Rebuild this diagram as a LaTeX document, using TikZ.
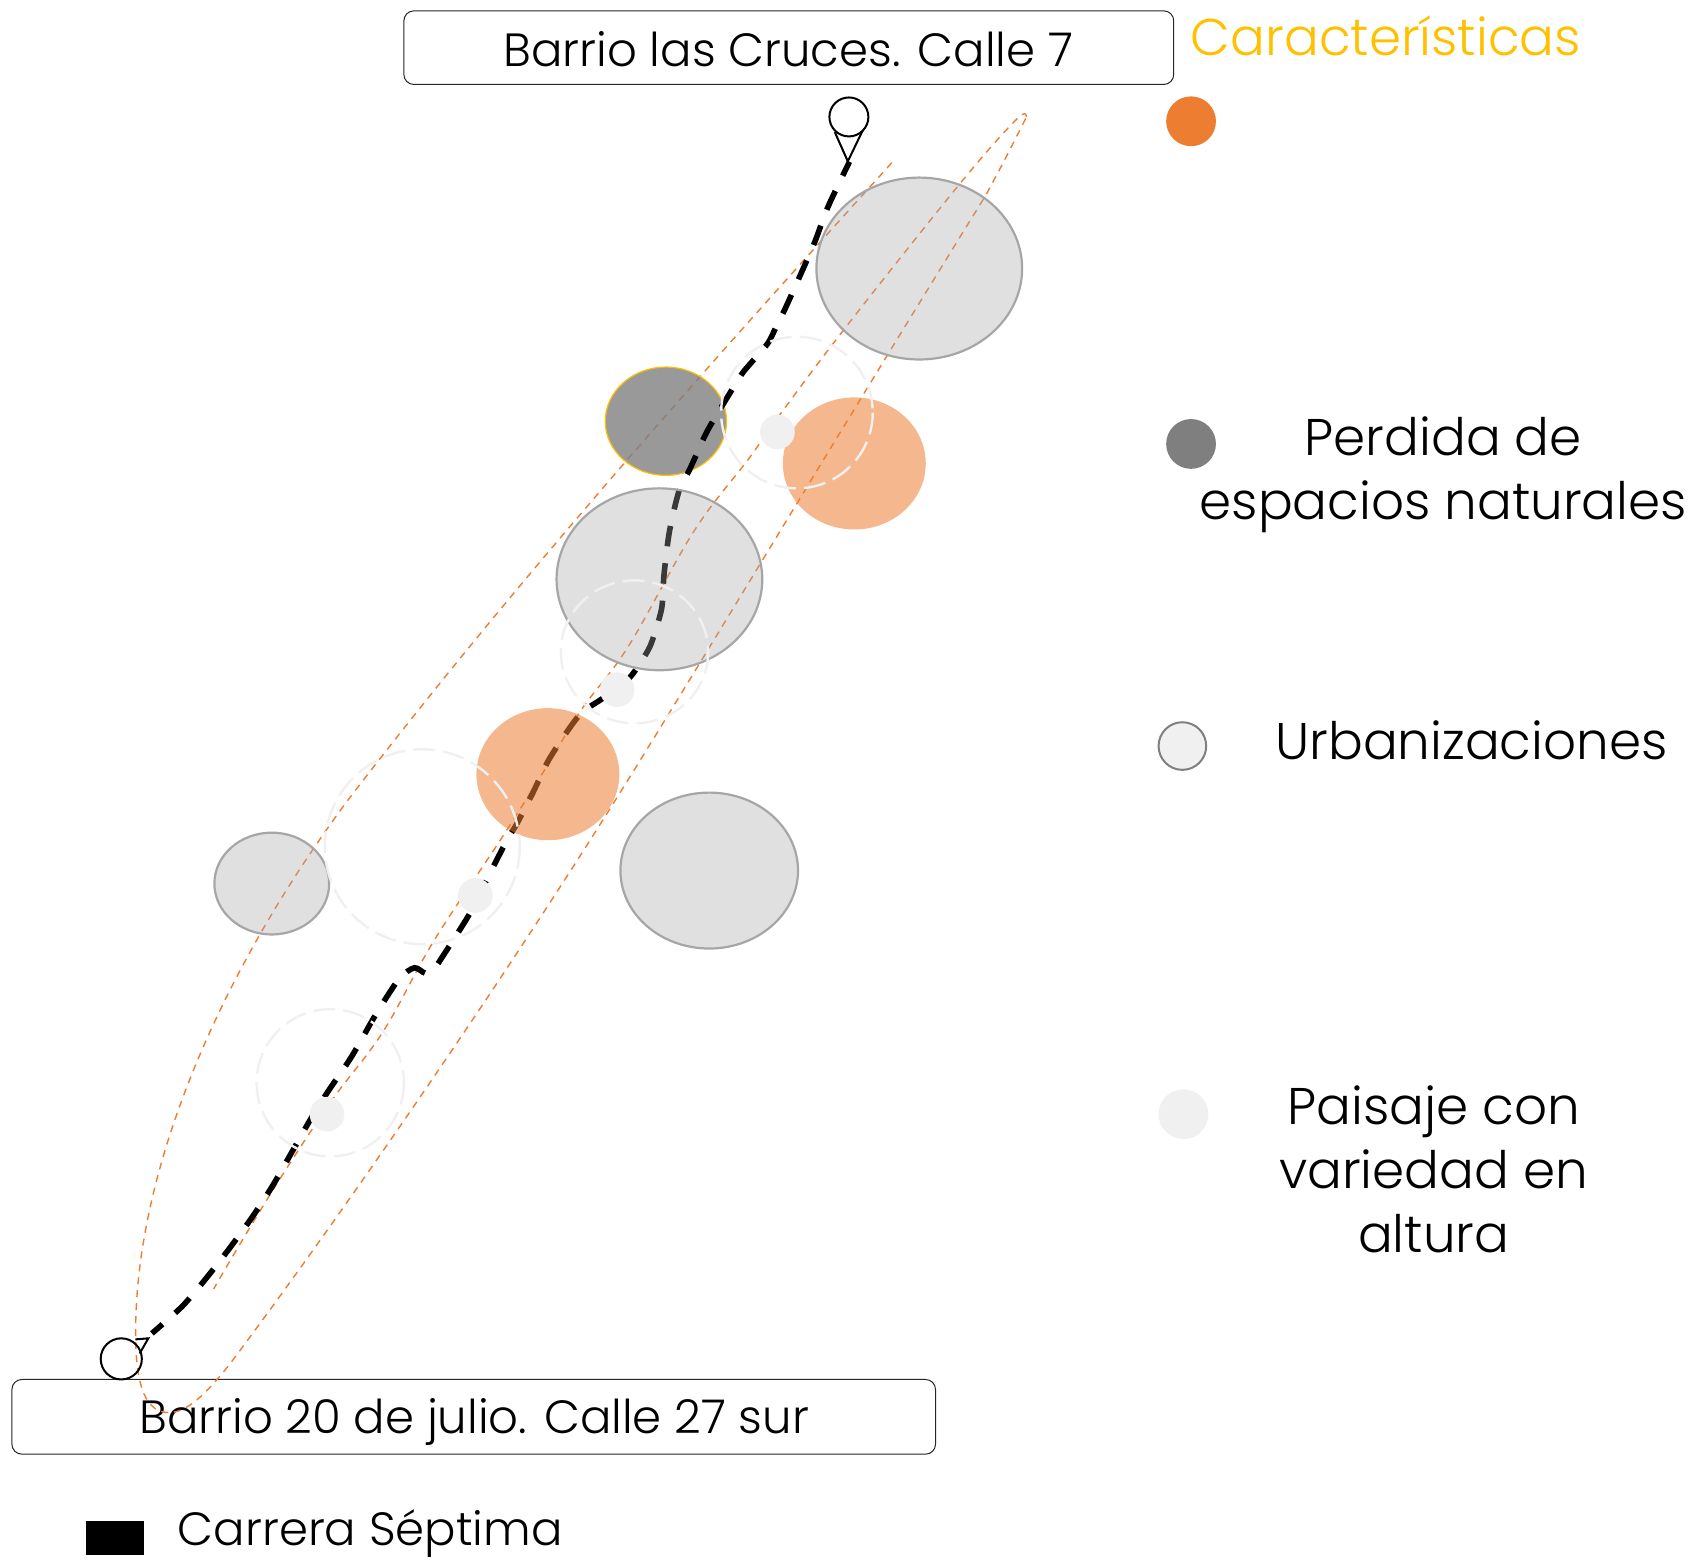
\documentclass[tikz,border=0pt]{standalone}
\usepackage{fontspec}
\setmainfont{Poppins Light}
\definecolor{gold}{HTML}{FFC000}
\definecolor{orng}{HTML}{ED7D31}
\definecolor{midg}{HTML}{A6A6A6}
\definecolor{darkg}{HTML}{7F7F7F}
\definecolor{pale}{HTML}{F0F0F0}
\tikzset{
  barrio/.style={draw=black!85,line width=.5pt,rounded corners=5pt,fill=white},
  lab/.style={inner sep=0pt,align=center,font=\fontsize{23.3}{32}\selectfont},
  leg/.style={inner sep=0pt,align=center,font=\fontsize{25.8}{32}\selectfont},
  grayell/.style={draw=midg,line width=1.1pt,fill=midg,fill opacity=.35},
  darkell/.style={draw=gold,line width=.6pt,fill=darkg,fill opacity=.8},
  orell/.style={fill=orng,fill opacity=.55},
  urb/.style={draw=pale,line width=1.2pt,dash pattern=on 11pt off 4pt},
  paisaje/.style={fill=pale},
  route/.style={black,line width=2.8pt,dash pattern=on 10.3pt off 8.5pt,dash phase=2.5pt},
  zone/.style={orng,line width=.7pt,dash pattern=on 3.5pt off 3pt},
  pin/.style={draw=black,line width=1pt,fill=white},
  key/.style={line width=1pt}
}
\begin{document}
\begin{tikzpicture}[x=0.5414pt,y=-0.5414pt]
\useasboundingbox (0,0) rectangle (1568.2,1440.7);
% boxes
\draw[barrio] (373,10) rectangle (1084,78);
\draw[barrio] (11,1274) rectangle (864,1343);
\node[lab] (top) at (728,45) {Barrio las Cruces. Calle 7};
\node[lab] (bot) at (438,1313) {Barrio 20 de julio. Calle 27 sur};
% zone
\begin{scope}[scale=1.002]
\draw[zone] (822,150) .. controls (650,340) and (480,530) .. (321,737)
  .. controls (200,900) and (125,1080) .. (125,1228)
  .. controls (125,1280) and (135,1302) .. (156,1302)
  .. controls (172,1302) and (190,1285) .. (212,1257)
  .. controls (300,1140) and (450,925) .. (570,733)
  .. controls (650,605) and (760,420) .. (908,181)
  .. controls (925,150) and (940,120) .. (946,108);
\draw[zone] plot[smooth,tension=.6] coordinates {(946,108) (937,110) (885,169) (780,301) (719,382) (690,423) (640,489) (579,596) (536,654) (503,708) (462,773) (400,867) (353,951) (306,1014) (259,1085) (218,1152) (197,1188)};
\end{scope}
\draw[darkell] (615,389) ellipse (56 and 50);
% route
\begin{scope}[scale=1.002]
\draw[route] plot[smooth,tension=.45] coordinates {(783,149) (763,191) (751,223) (737,255) (723,286) (716,300) (708,316) (697,329) (685,343) (676,357) (659,385) (650,401) (636,432) (626,452) (617,490) (612,530) (610,560) (603,585) (597,600) (580,625) (555,644) (537,656) (525,671) (506,700) (491,731) (476,760) (468,773) (451,806) (433,842) (409,880) (400,893) (392,897) (382,892) (368,902) (347,934) (324,974) (303,1005) (286,1032) (253,1090) (233,1121) (212,1150) (191,1177) (168,1204) (140,1229)};
\end{scope}
% areas
\draw[grayell] (849,248) ellipse (95 and 84);
\draw[grayell] (609,535) ellipse (95 and 84);
\draw[grayell] (655,804) ellipse (82 and 72);
\draw[grayell] (251,816) ellipse (53 and 47);
\fill[orell] (789,428) ellipse (66 and 61);
\fill[orell] (506,715) ellipse (66 and 61);
% urbanizations
\draw[urb] (736,381) ellipse (70 and 70);
\draw[urb] (586,602) ellipse (68 and 66);
\draw[urb] (390,782) ellipse (90 and 90);
\draw[urb] (305,1000) ellipse (68 and 68);
\fill[paisaje] (718,399) circle (16);
\fill[paisaje] (570,637) circle (16);
\fill[paisaje] (439,827) circle (16);
\fill[paisaje] (302,1029) circle (16);
% pins
\draw[pin] (771,122) -- (783,149) -- (797,120);
\draw[pin,fill=white] (784,108) circle (18);
\draw[pin,fill=none] (125,1237) -- (137,1236) -- (129,1250);
\draw[pin,fill=none] (112,1255) circle (19);
% legend
\node[leg,text=gold] (car) at (1280,33) {Características};
\fill[orng] (1100,112) circle (23);
\fill[darkg] (1100,410) circle (23);
\draw[key,draw=darkg,fill=pale] (1092,689) circle (22);
\fill[paisaje] (1093,1029) circle (23);
\node[leg] (per) at (1333,438) {Perdida de\\espacios naturales};
\node[leg] (urb) at (1359,684) {Urbanizaciones};
\node[leg] (pai) at (1324,1080) {Paisaje con\\variedad en\\altura};
\fill[black] (79,1405) rectangle (133,1436);
\node[lab,anchor=west] (cs) at (164,1416) {Carrera Séptima};
\end{tikzpicture}
\end{document}
